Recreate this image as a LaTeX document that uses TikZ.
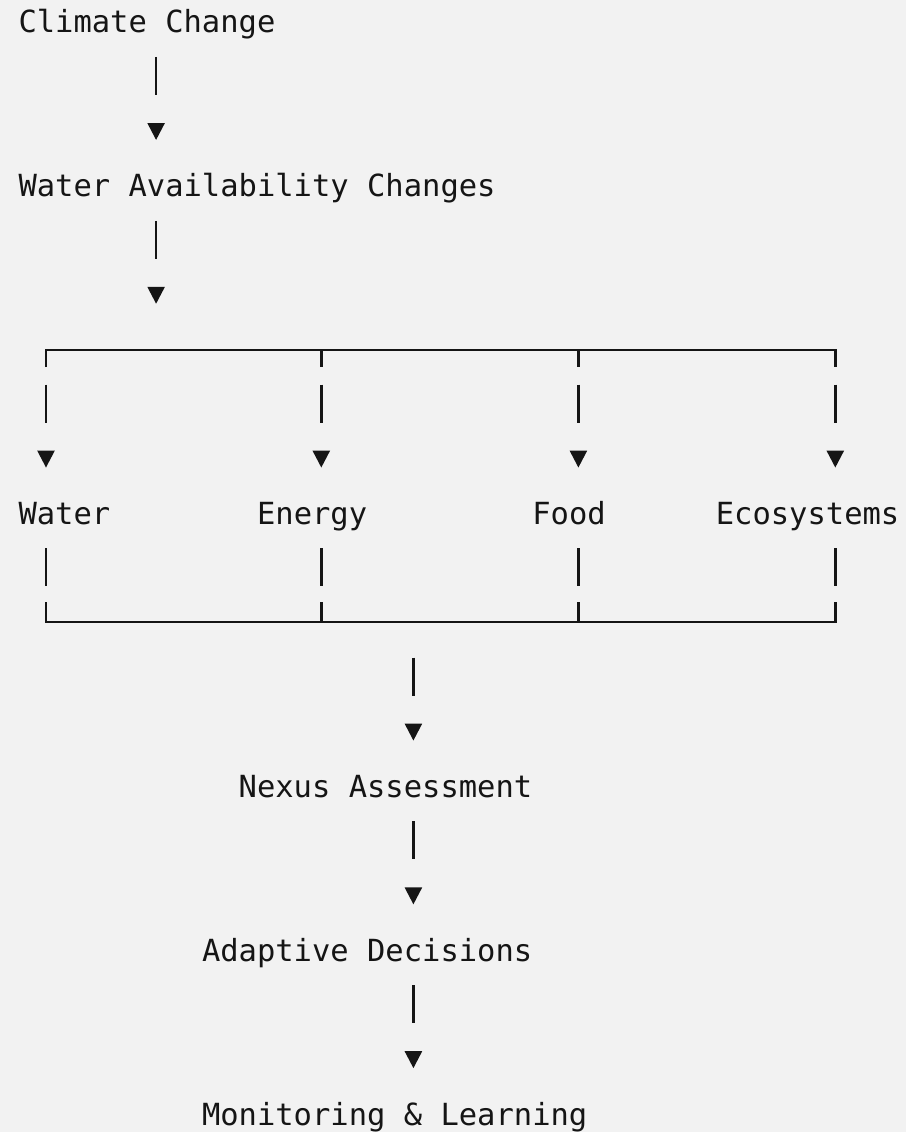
\documentclass[tikz,border=0pt]{standalone}
\usepackage{fontspec}
\newfontfamily\asciimono{DejaVu Sans Mono}
\usetikzlibrary{arrows.meta}
\definecolor{bg}{HTML}{F2F2F2}
\definecolor{ink}{HTML}{151515}
\begin{document}
\begin{tikzpicture}[x=1pt,y=-1pt,
  txt/.style={anchor=base west, inner sep=0pt, outer sep=0pt, text=ink,
    font=\asciimono\fontsize{30.48}{36}\selectfont},
  conn/.style={draw=ink, line width=2.4pt, dash pattern=on 38pt off 300pt,
    -{Triangle[length=17pt,width=17pt]}},
  wire/.style={draw=ink, line width=2.4pt}]
\fill[bg] (0,0) rectangle (906,1132);
\useasboundingbox (0,0) rectangle (906,1132);

% text nodes
\node[txt] (cc)  at (18.5,33.0)   {Climate Change};
\node[txt] (wac) at (18.5,196.8)  {Water Availability Changes};
\node[txt] (wat) at (18.5,524.4)  {Water};
\node[txt] (ene) at (257.05,524.4) {Energy};
\node[txt] (foo) at (532.3,524.4) {Food};
\node[txt] (eco) at (715.8,524.4) {Ecosystems};
\node[txt] (nex) at (238.7,797.4) {Nexus Assessment};
\node[txt] (ada) at (202.0,961.2) {Adaptive Decisions};
\node[txt] (mon) at (202.0,1125.0) {Monitoring \& Learning};

% connector end points
\coordinate (c1a) at (156.1,57.0);  \coordinate (c1b) at (156.1,140.0);
\coordinate (c2a) at (156.1,220.8); \coordinate (c2b) at (156.1,303.8);
\coordinate (c3a) at (413.4,657.6); \coordinate (c3b) at (413.4,740.6);
\coordinate (c4a) at (413.4,821.4); \coordinate (c4b) at (413.4,904.4);
\coordinate (c5a) at (413.4,985.2); \coordinate (c5b) at (413.4,1068.2);

\draw[conn] (c1a) -- (c1b);
\draw[conn] (c2a) -- (c2b);
\draw[conn] (c3a) -- (c3b);
\draw[conn] (c4a) -- (c4b);
\draw[conn] (c5a) -- (c5b);

% top bracket
\coordinate (tl) at (46.0,350);  \coordinate (tr) at (835.3,350);
\draw[wire] (46.0,367) -- (tl) -- (tr) -- (835.3,367);
\draw[wire] (321.3,350) -- (321.3,367);
\draw[wire] (578.4,350) -- (578.4,367);
\foreach \x in {46.0,321.3,578.4,835.3}{
  \draw[conn] (\x,384.6) -- (\x,467.6);
  \draw[wire] (\x,548.4) -- (\x,586.4);
}

% bottom bracket
\coordinate (bl) at (46.0,622);  \coordinate (br) at (835.3,622);
\draw[wire] (46.0,602) -- (bl) -- (br) -- (835.3,602);
\draw[wire] (321.3,602) -- (321.3,622);
\draw[wire] (578.4,602) -- (578.4,622);
\end{tikzpicture}
\end{document}
